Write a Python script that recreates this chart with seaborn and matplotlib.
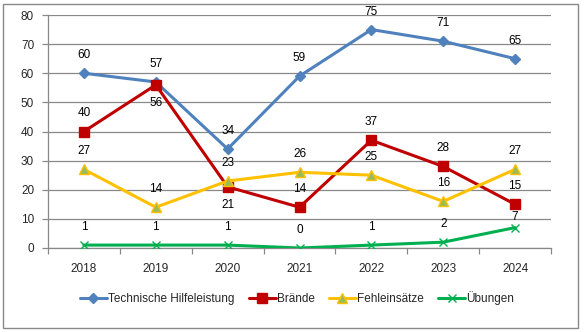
import matplotlib
matplotlib.use("Agg")
import matplotlib.pyplot as plt
import seaborn as sns
import pandas as pd
from matplotlib.patches import Rectangle
from matplotlib.lines import Line2D

years = ["2018", "2019", "2020", "2021", "2022", "2023", "2024"]
technische = [60, 57, 34, 59, 75, 71, 65]
braende = [40, 56, 21, 14, 37, 28, 15]
fehleinsaetze = [27, 14, 23, 26, 25, 16, 27]
uebungen = [1, 1, 1, 0, 1, 2, 7]

series_names = ["Technische Hilfeleistung", "Brände", "Fehleinsätze", "Übungen"]
series_vals = [technische, braende, fehleinsaetze, uebungen]
# label offsets in points (positive = above the point)
label_off = [
    [13, 13, 13, 13, 13, 13, 13],
    [13, -13, -13, 13, 13, 13, 13],
    [13, 13, 13, 13, 13, 13, 13],
    [13, 13, 13, 13, 13, 13, 8],
]

sns.set_theme(style="white")
plt.rcParams['font.family'] = ['Liberation Sans', 'DejaVu Sans']

fig = plt.figure(figsize=(5.84, 3.32), dpi=100)
ax = fig.add_axes([48/584, 1-248/332, (551-48)/584, (248-15)/332])

styles = [
    dict(color="#4F81BD", marker="D", markersize=5.5, mfc="#4F81BD", mec="#4F81BD"),
    dict(color="#C00000", marker="s", markersize=7.5, mfc="#C00000", mec="#C00000"),
    dict(color="#FFC000", marker="^", markersize=7.5, mfc="#9BBB59", mec="#FFC000"),
    dict(color="#00B050", marker="x", markersize=6, mfc="#00B050", mec="#00B050"),
]

handles = []
for name, vals, st, offs in zip(series_names, series_vals, styles, label_off):
    df = pd.DataFrame({"x": range(len(years)), "y": vals})
    sns.lineplot(data=df, x="x", y="y", ax=ax, color=st["color"], linewidth=2.2,
                 marker=st["marker"], markersize=st["markersize"],
                 markerfacecolor=st["mfc"], markeredgecolor=st["mec"],
                 markeredgewidth=1.0, zorder=3)
    for i, v in enumerate(vals):
        ax.annotate(str(v), (i, v), xytext=(0, offs[i]), textcoords="offset points",
                    ha="center", va="center", fontsize=8.5, color="black",
                    annotation_clip=False)
    handles.append(Line2D([0], [0], color=st["color"], linewidth=2.2,
                          marker=st["marker"], markersize=st["markersize"],
                          markerfacecolor=st["mfc"], markeredgecolor=st["mec"]))

ax.set_xlim(-0.5, len(years) - 0.5)
ax.set_ylim(0, 80)
ax.set_yticks(range(0, 81, 10))
ax.set_xticks(range(len(years)))
ax.set_xticklabels(years)
ax.set_xticks([i - 0.5 for i in range(len(years) + 1)], minor=True)
ax.set_xlabel("")
ax.set_ylabel("")
ax.grid(axis="y", color="#888888", linewidth=0.9)
ax.set_axisbelow(True)
for s in ["top", "right"]:
    ax.spines[s].set_visible(False)
for s in ["left", "bottom"]:
    ax.spines[s].set_color("#888888")
    ax.spines[s].set_linewidth(0.9)
ax.tick_params(axis="x", which="major", length=0, labelsize=8.5, pad=11)
ax.tick_params(axis="x", which="minor", length=4, color="#888888", width=0.9, direction="out", bottom=True)
ax.tick_params(axis="y", length=4, color="#888888", width=0.9, direction="out", labelsize=8.5, left=True, pad=6)

fig.legend(handles, series_names, loc="center", bbox_to_anchor=(297/584, 1-298/332),
           ncol=4, frameon=False, fontsize=8.5, handlelength=2.3, columnspacing=1.2,
           handletextpad=0.1)

fig.patches.append(Rectangle((3/584, 4/332), (578-3)/584, (328-4)/332, transform=fig.transFigure,
                             fill=False, edgecolor="#888888", linewidth=1.0))

fig.savefig("out.png", dpi=100)
